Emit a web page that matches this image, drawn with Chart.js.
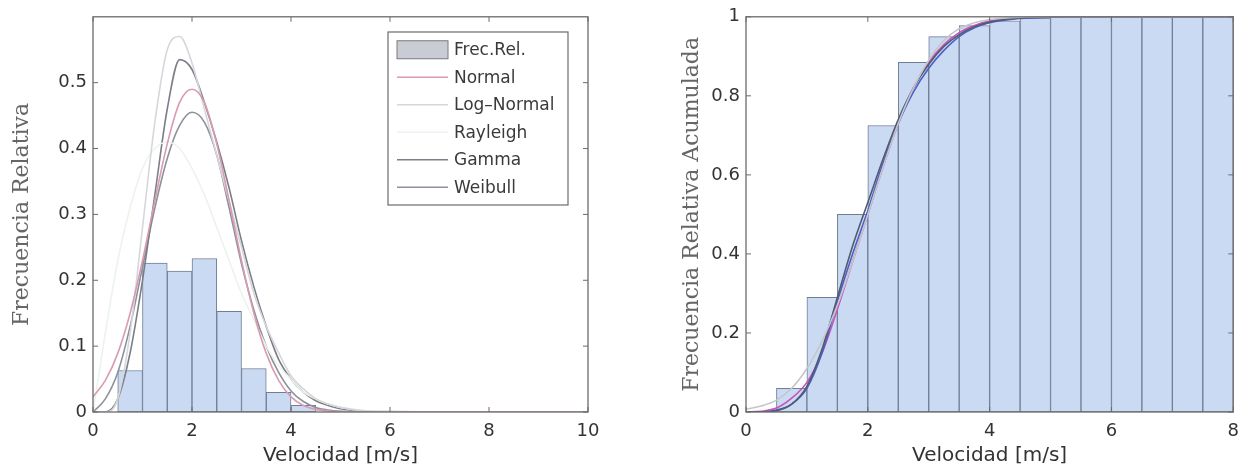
<!DOCTYPE html>
<html>
<head>
<meta charset="utf-8">
<script src="https://cdn.jsdelivr.net/npm/chart.js@4.4.1/dist/chart.umd.min.js"></script>
<style>
    body { margin: 0; background: #fff; width: 1248px; height: 470px; overflow: hidden; }
    canvas { position: absolute; top: 0; }
    #densityChart { left: 0; }
    #cumulativeChart { left: 620px; }
</style>
</head>
<body>
<canvas id="densityChart" width="620" height="470"></canvas>
<canvas id="cumulativeChart" width="628" height="470"></canvas>
<script>
"use strict";

/* =========================================================
   DATA - DENSITY (LEFT)
========================================================= */

const binCentersDensity = [0.75, 1.25, 1.75, 2.25, 2.75, 3.25, 3.75, 4.25];
const frecRel = [0.063, 0.226, 0.214, 0.233, 0.153, 0.066, 0.03, 0.01];

const fitX = [0, 0.25, 0.5, 0.75, 1, 1.25, 1.5, 1.75, 2, 2.25, 2.5, 2.75, 3,
              3.25, 3.5, 3.75, 4, 4.25, 4.5, 4.75, 5, 5.5, 6, 7, 8, 10];

const normalPdf    = [0.023, 0.048, 0.089, 0.15, 0.23, 0.321, 0.407, 0.47, 0.49, 0.47, 0.407, 0.321, 0.23,
                      0.15, 0.089, 0.048, 0.023, 0.01, 0.004, 0.0015, 0.0005, 0, 0, 0, 0, 0];
const logNormalPdf = [0, 0, 0.02, 0.12, 0.28, 0.44, 0.55, 0.57, 0.53, 0.46, 0.39, 0.32, 0.25,
                      0.18, 0.13, 0.09, 0.055, 0.035, 0.02, 0.012, 0.007, 0.002, 0.001, 0, 0, 0];
const rayleighPdf  = [0, 0.12, 0.23, 0.31, 0.37, 0.4, 0.41, 0.4, 0.37, 0.33, 0.28, 0.23, 0.18,
                      0.14, 0.1, 0.07, 0.05, 0.03, 0.02, 0.012, 0.007, 0.002, 0.001, 0, 0, 0];
const gammaPdf     = [0, 0, 0.02, 0.09, 0.2, 0.33, 0.46, 0.535, 0.52, 0.47, 0.41, 0.34, 0.26,
                      0.19, 0.13, 0.08, 0.05, 0.03, 0.017, 0.01, 0.005, 0.001, 0, 0, 0, 0];
const weibullPdf   = [0, 0.02, 0.06, 0.13, 0.22, 0.31, 0.385, 0.435, 0.455, 0.44, 0.39, 0.31, 0.225,
                      0.155, 0.1, 0.06, 0.032, 0.016, 0.007, 0.003, 0.001, 0, 0, 0, 0, 0];

const densityXTicks = [0, 2, 4, 6, 8, 10];
const densityYTicks = [0, 0.1, 0.2, 0.3, 0.4, 0.5];

/* =========================================================
   DATA - CUMULATIVE (RIGHT)
========================================================= */

const binCentersCum = [0.25, 0.75, 1.25, 1.75, 2.25, 2.75, 3.25, 3.75,
                       4.25, 4.75, 5.25, 5.75, 6.25, 6.75, 7.25, 7.75];
const frecRelAcum = [0, 0.06, 0.29, 0.5, 0.725, 0.885, 0.95, 0.978,
                     0.99, 0.997, 1, 1, 1, 1, 1, 1];

const cdfX = [0, 0.25, 0.5, 0.75, 1, 1.25, 1.5, 1.75, 2, 2.25, 2.5, 2.75, 3,
              3.25, 3.5, 3.75, 4, 4.5, 5, 5.5, 6, 7, 8];

const normalCdf  = [0.007, 0.015, 0.03, 0.06, 0.11, 0.18, 0.27, 0.38, 0.5, 0.62, 0.73, 0.82, 0.89,
                    0.94, 0.97, 0.985, 0.993, 0.999, 1, 1, 1, 1, 1];
const gammaCdf   = [0, 0, 0.005, 0.02, 0.06, 0.15, 0.28, 0.4, 0.51, 0.63, 0.73, 0.81, 0.87,
                    0.915, 0.95, 0.972, 0.985, 0.996, 0.999, 1, 1, 1, 1];
const weibullCdf = [0, 0.002, 0.01, 0.035, 0.075, 0.15, 0.26, 0.38, 0.5, 0.62, 0.73, 0.82, 0.885,
                    0.93, 0.96, 0.978, 0.989, 0.997, 1, 1, 1, 1, 1];
const logNormalCdf = [0, 0, 0.003, 0.02, 0.065, 0.16, 0.29, 0.42, 0.53, 0.64, 0.74, 0.82, 0.88,
                      0.925, 0.955, 0.975, 0.987, 0.997, 0.999, 1, 1, 1, 1];

const cumXTicks = [0, 2, 4, 6, 8];
const cumYTicks = [0, 0.2, 0.4, 0.6, 0.8, 1];


/* =========================================================
   HELPERS
========================================================= */

function toPoints(xs, ys) {
    return xs.map((x, i) => ({ x: x, y: ys[i] }));
}

function fitLine(label, xs, ys, color) {
    return {
        type: "line",
        label: label,
        data: toPoints(xs, ys),
        borderColor: color,
        borderWidth: 1.6,
        pointRadius: 0,
        fill: false,
        cubicInterpolationMode: "monotone",
        order: 1
    };
}

function histBars(label, xs, ys) {
    return {
        type: "bar",
        label: label,
        data: toPoints(xs, ys),
        backgroundColor: "#cbdaf3",
        borderColor: "#6f7d95",
        borderWidth: 1,
        borderSkipped: false,
        barPercentage: 1,
        categoryPercentage: 1,
        order: 10
    };
}

const tickFont = { family: "DejaVu Sans", size: 18 };

function makeScales(xMin, xMax, xTicks, yMax, yTicks, yTitle, yWidth, yTitlePad) {
    return {
        x: {
            type: "linear",
            min: xMin,
            max: xMax,
            offset: false,
            grid: { display: false, drawTicks: false },
            border: { display: false },
            afterBuildTicks: s => { s.ticks = xTicks.map(v => ({ value: v })); },
            afterFit: s => { s.height = 58; },
            ticks: {
                autoSkip: false,
                maxRotation: 0,
                padding: 9,
                color: "#333",
                font: tickFont,
                callback: v => String(v)
            },
            title: {
                display: true,
                text: "Velocidad [m/s]",
                color: "#333",
                font: { family: "DejaVu Sans", size: 20 },
                padding: { top: 0, bottom: 2 }
            }
        },
        y: {
            type: "linear",
            min: 0,
            max: yMax,
            grid: { display: false, drawTicks: false },
            border: { display: false },
            afterBuildTicks: s => { s.ticks = yTicks.map(v => ({ value: v })); },
            afterFit: s => { s.width = yWidth; },
            ticks: {
                autoSkip: false,
                padding: 6,
                color: "#333",
                font: tickFont,
                callback: v => String(v)
            },
            title: {
                display: true,
                text: yTitle,
                color: "#666",
                font: { family: "DejaVu Serif", size: 22 },
                padding: { top: yTitlePad, bottom: 0 }
            }
        }
    };
}


/* =========================================================
   PLUGINS - BOX, INWARD TICKS, LEGEND
========================================================= */

const matlabBox = {
    id: "matlabBox",
    afterDatasetsDraw(chart) {
        const { ctx, chartArea: a, scales } = chart;
        ctx.save();
        ctx.strokeStyle = "#6b6b6b";
        ctx.lineWidth = 1.3;
        ctx.strokeRect(a.left, a.top, a.right - a.left, a.bottom - a.top);
        ctx.lineWidth = 1;
        ctx.beginPath();
        scales.x.ticks.forEach(t => {
            const px = scales.x.getPixelForValue(t.value);
            ctx.moveTo(px, a.bottom);
            ctx.lineTo(px, a.bottom - 5);
            ctx.moveTo(px, a.top);
            ctx.lineTo(px, a.top + 5);
        });
        scales.y.ticks.forEach(t => {
            const py = scales.y.getPixelForValue(t.value);
            ctx.moveTo(a.left, py);
            ctx.lineTo(a.left + 5, py);
            ctx.moveTo(a.right, py);
            ctx.lineTo(a.right - 5, py);
        });
        ctx.stroke();
        ctx.restore();
    }
};

const boxLegend = {
    id: "boxLegend",
    afterDraw(chart, args, opts) {
        if (!opts || !opts.show) return;
        const ctx = chart.ctx;
        const items = chart.data.datasets;
        const x = opts.x, y = opts.y, w = opts.width, rowH = opts.rowHeight;
        const h = items.length * rowH + 8;
        ctx.save();
        ctx.fillStyle = "#fff";
        ctx.fillRect(x, y, w, h);
        ctx.strokeStyle = "#6b6b6b";
        ctx.lineWidth = 1.2;
        ctx.strokeRect(x, y, w, h);
        ctx.font = "17px 'DejaVu Sans'";
        ctx.textBaseline = "middle";
        items.forEach((ds, i) => {
            const cy = y + 4 + rowH * (i + 0.5);
            if (ds.type === "bar") {
                ctx.fillStyle = "#c8ccd4";
                ctx.fillRect(x + 9, cy - 9, 51, 18);
                ctx.strokeStyle = "#7a7a7a";
                ctx.lineWidth = 1;
                ctx.strokeRect(x + 9, cy - 9, 51, 18);
            } else {
                ctx.strokeStyle = ds.borderColor;
                ctx.lineWidth = 1.6;
                ctx.beginPath();
                ctx.moveTo(x + 9, cy);
                ctx.lineTo(x + 60, cy);
                ctx.stroke();
            }
            ctx.fillStyle = "#3a3a3a";
            ctx.fillText(ds.label, x + 66, cy + 1);
        });
        ctx.restore();
    }
};


/* =========================================================
   LEFT CHART - FRECUENCIA RELATIVA
========================================================= */

new Chart(document.getElementById("densityChart"), {
    type: "bar",
    data: {
        datasets: [
            histBars("Frec.Rel.", binCentersDensity, frecRel),
            fitLine("Normal", fitX, normalPdf, "#d99bb0"),
            fitLine("Log–Normal", fitX, logNormalPdf, "#d6d7dc"),
            fitLine("Rayleigh", fitX, rayleighPdf, "#ebf4eb"),
            fitLine("Gamma", fitX, gammaPdf, "#7b7e86"),
            fitLine("Weibull", fitX, weibullPdf, "#8c919b")
        ]
    },
    options: {
        responsive: false,
        animation: false,
        layout: { padding: { top: 12, right: 32, left: 0, bottom: 0 } },
        scales: makeScales(0, 10, densityXTicks, 0.6, densityYTicks,
                           "Frecuencia Relativa", 93, 8.8),
        plugins: {
            legend: { display: false },
            tooltip: { enabled: false },
            boxLegend: { show: true, x: 388, y: 32, width: 180, rowHeight: 27.5 }
        }
    },
    plugins: [matlabBox, boxLegend]
});


/* =========================================================
   RIGHT CHART - FRECUENCIA RELATIVA ACUMULADA
========================================================= */

new Chart(document.getElementById("cumulativeChart"), {
    type: "bar",
    data: {
        datasets: [
            histBars("Frec.Rel. Acum.", binCentersCum, frecRelAcum),
            fitLine("Normal", cdfX, normalCdf, "#c4c6cc"),
            fitLine("Log–Normal", cdfX, logNormalCdf, "#525a6c"),
            fitLine("Gamma", cdfX, gammaCdf, "#4a62c8"),
            fitLine("Weibull", cdfX, weibullCdf, "#c853b8")
        ]
    },
    options: {
        responsive: false,
        animation: false,
        layout: { padding: { top: 12, right: 8, left: 0, bottom: 0 } },
        scales: makeScales(0, 8, cumXTicks, 1, cumYTicks,
                           "Frecuencia Relativa Acumulada", 126, 58.8),
        plugins: {
            legend: { display: false },
            tooltip: { enabled: false }
        }
    },
    plugins: [matlabBox]
});
</script>
</body>
</html>
